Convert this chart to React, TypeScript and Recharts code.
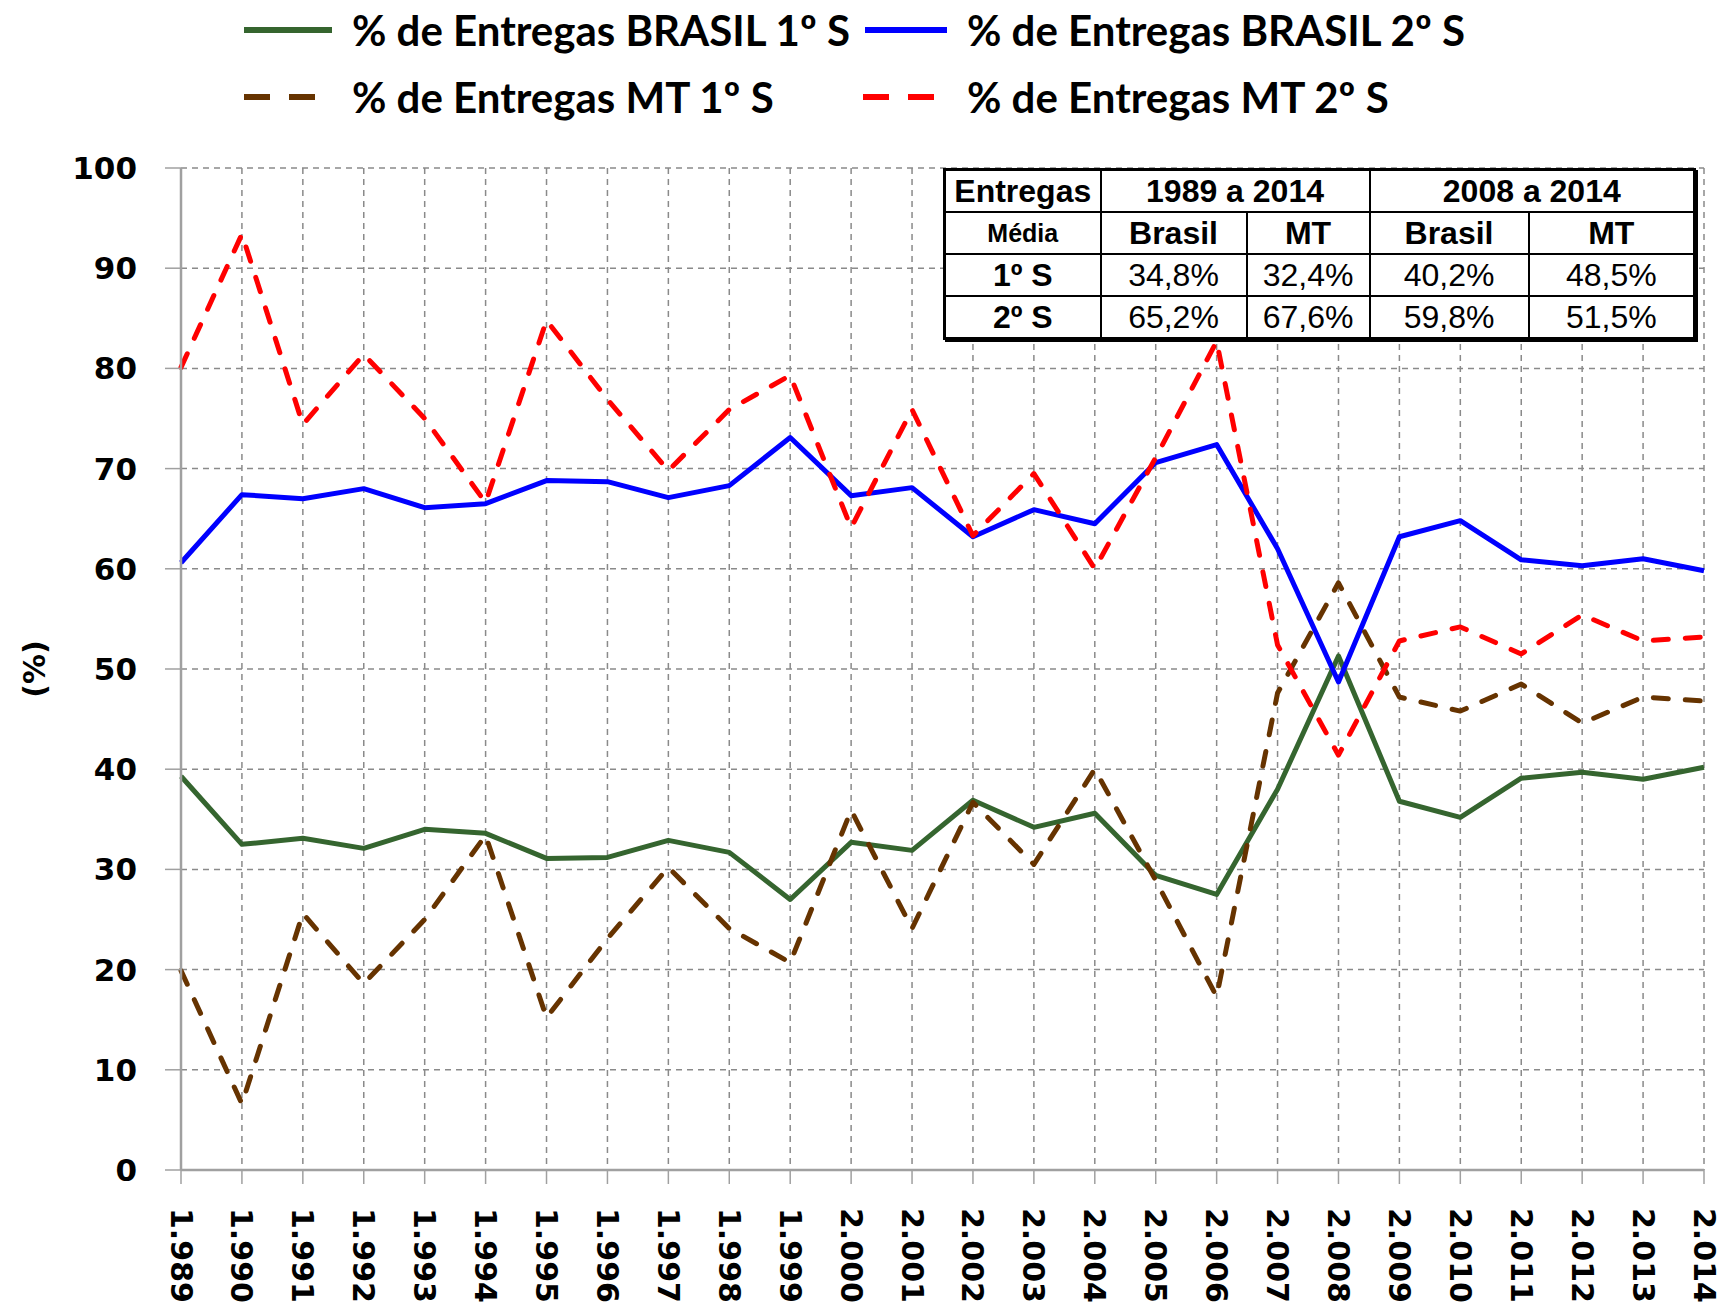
import React from 'react'
import { LineChart, Line, XAxis, YAxis, CartesianGrid } from 'recharts'

const years = [
  '1.989', '1.990', '1.991', '1.992', '1.993', '1.994', '1.995', '1.996', '1.997',
  '1.998', '1.999', '2.000', '2.001', '2.002', '2.003', '2.004', '2.005', '2.006',
  '2.007', '2.008', '2.009', '2.010', '2.011', '2.012', '2.013', '2.014',
]

// % de Entregas BRASIL 1º S
const brasil1S = [
  39.3, 32.5, 33.1, 32.1, 34.0, 33.6, 31.1, 31.2, 32.9, 31.7, 27.0, 32.7, 31.9,
  36.9, 34.2, 35.6, 29.4, 27.5, 38.0, 51.3, 36.8, 35.2, 39.1, 39.7, 39.0, 40.2,
]
// % de Entregas BRASIL 2º S
const brasil2S = [
  60.6, 67.4, 67.0, 68.0, 66.1, 66.5, 68.8, 68.7, 67.1, 68.3, 73.1, 67.3, 68.1,
  63.2, 65.9, 64.5, 70.6, 72.4, 62.0, 48.7, 63.2, 64.8, 60.9, 60.3, 61.0, 59.8,
]
// % de Entregas MT 1º S
const mt1S = [
  19.9, 6.6, 25.6, 18.6, 25.0, 33.4, 15.2, 23.1, 30.2, 24.1, 20.7, 35.9, 24.1,
  36.7, 30.5, 40.0, 28.9, 17.3, 47.6, 58.6, 47.2, 45.8, 48.5, 44.6, 47.2, 46.8,
]
// % de Entregas MT 2º S
const mt2S = [
  80.1, 93.4, 74.4, 81.4, 75.0, 66.6, 84.8, 76.9, 69.8, 75.9, 79.3, 64.1, 75.9,
  63.3, 69.5, 60.0, 71.1, 82.7, 52.4, 41.4, 52.8, 54.2, 51.5, 55.4, 52.8, 53.2,
]

const yTicks = [0, 10, 20, 30, 40, 50, 60, 70, 80, 90, 100]

// summary table
const periodHeaders = ['1989 a 2014', '2008 a 2014']
const regionHeaders = ['Brasil', 'MT', 'Brasil', 'MT']
const rowLabels = ['1º S', '2º S']
const firstSemester = ['34,8%', '32,4%', '40,2%', '48,5%']
const secondSemester = ['65,2%', '67,6%', '59,8%', '51,5%']

const series = [
  { key: 'br1', name: '% de Entregas BRASIL 1º S', color: '#35652f', dash: undefined },
  { key: 'br2', name: '% de Entregas BRASIL 2º S', color: '#0000ff', dash: undefined },
  { key: 'mt1', name: '% de Entregas MT 1º S', color: '#663300', dash: '15 17' },
  { key: 'mt2', name: '% de Entregas MT 2º S', color: '#ff0000', dash: '15 17' },
]

const data = years.map((year, i) => ({
  year,
  br1: brasil1S[i],
  br2: brasil2S[i],
  mt1: mt1S[i],
  mt2: mt2S[i],
}))

const axisFont = 'DejaVu Sans, Verdana, sans-serif'
const gridGrey = '#8a8a8a'

function YearTick({ x, y, payload }: any) {
  return (
    <text
      x={x}
      y={y}
      transform={`rotate(90, ${x}, ${y})`}
      textAnchor="start"
      dominantBaseline="central"
      fill="#000"
      fontSize={30}
      fontWeight="bold"
      fontFamily={axisFont}
    >
      {payload.value}
    </text>
  )
}

// legend slots: [line start, line end, text x, row center y]
const legendSlots = [
  [244, 332, 352, 30],
  [865, 947, 967, 30],
  [244, 315, 352, 97],
  [863, 934, 967, 97],
]

function ChartLegend() {
  return (
    <>
      <svg width={1723} height={130} style={{ position: 'absolute', left: 0, top: 0 }}>
        {series.map((s, i) => {
          const [x1, x2, , cy] = legendSlots[i]
          return (
            <line
              key={s.key}
              x1={x1}
              x2={x2}
              y1={cy}
              y2={cy}
              stroke={s.color}
              strokeWidth={6}
              strokeDasharray={s.dash ? '26 19' : undefined}
            />
          )
        })}
      </svg>
      {series.map((s, i) => {
        const [, , tx, cy] = legendSlots[i]
        return (
          <div
            key={s.key}
            style={{
              position: 'absolute',
              left: tx,
              top: cy - 26,
              height: 52,
              lineHeight: '52px',
              fontFamily: 'Lato, sans-serif',
              fontWeight: 'bold',
              fontSize: 42,
              color: '#000',
              whiteSpace: 'nowrap',
            }}
          >
            {s.name}
          </div>
        )
      })}
    </>
  )
}

const cell: React.CSSProperties = {
  border: '2.5px solid #000',
  height: 40,
  padding: 0,
  textAlign: 'center',
  verticalAlign: 'middle',
  fontSize: 32,
  lineHeight: '38px',
}

function SummaryTable() {
  return (
    <table
      style={{
        position: 'absolute',
        left: 943,
        top: 168,
        width: 750,
        borderCollapse: 'collapse',
        tableLayout: 'fixed',
        background: '#fff',
        fontFamily: 'Liberation Sans, Arial, sans-serif',
        color: '#000',
        border: '3px solid #000',
        boxShadow: '2px 2px 0 #000',
      }}
    >
      <colgroup>
        <col style={{ width: 156 }} />
        <col style={{ width: 146 }} />
        <col style={{ width: 123 }} />
        <col style={{ width: 159 }} />
        <col style={{ width: 166 }} />
      </colgroup>
      <tbody>
        <tr>
          <td style={{ ...cell, fontWeight: 'bold' }}>Entregas</td>
          {periodHeaders.map((p) => (
            <td key={p} colSpan={2} style={{ ...cell, fontWeight: 'bold' }}>
              {p}
            </td>
          ))}
        </tr>
        <tr>
          <td style={{ ...cell, fontWeight: 'bold', fontSize: 25 }}>Média</td>
          {regionHeaders.map((r, i) => (
            <td key={i} style={{ ...cell, fontWeight: 'bold' }}>
              {r}
            </td>
          ))}
        </tr>
        {[firstSemester, secondSemester].map((vals, r) => (
          <tr key={r}>
            <td style={{ ...cell, fontWeight: 'bold' }}>{rowLabels[r]}</td>
            {vals.map((v, i) => (
              <td key={i} style={cell}>
                {v}
              </td>
            ))}
          </tr>
        ))}
      </tbody>
    </table>
  )
}

export default function App() {
  return (
    <div style={{ position: 'relative', width: 1723, height: 1306, background: '#fff' }}>
      <style>{'body{margin:0}'}</style>
      <LineChart
        width={1723}
        height={1306}
        data={data}
        margin={{ top: 168, right: 19, left: 81, bottom: 0 }}
      >
        <CartesianGrid stroke={gridGrey} strokeDasharray="6 5" strokeWidth={1.5} />
        <XAxis
          dataKey="year"
          interval={0}
          height={136}
          tickSize={14}
          tickMargin={24}
          tick={<YearTick />}
          axisLine={{ stroke: '#a0a0a0', strokeWidth: 2.5 }}
          tickLine={{ stroke: '#a0a0a0', strokeWidth: 1.5 }}
        />
        <YAxis
          type="number"
          domain={[0, 100]}
          ticks={yTicks}
          width={100}
          tickSize={16}
          tickMargin={28}
          axisLine={{ stroke: '#a0a0a0', strokeWidth: 2.5 }}
          tickLine={{ stroke: '#a0a0a0', strokeWidth: 1.5 }}
          tick={{ fill: '#000', fontSize: 31, fontWeight: 'bold', fontFamily: axisFont }}
          label={{
            value: '(%)',
            angle: -90,
            position: 'insideLeft',
            offset: -47,
            style: {
              textAnchor: 'middle',
              fill: '#000',
              fontSize: 30,
              fontWeight: 'bold',
              fontFamily: axisFont,
            },
          }}
        />
        {series.map((s) => (
          <Line
            key={s.key}
            type="linear"
            dataKey={s.key}
            name={s.name}
            stroke={s.color}
            strokeWidth={5}
            strokeDasharray={s.dash}
            strokeLinecap={s.dash ? 'round' : 'butt'}
            strokeLinejoin="round"
            dot={false}
            activeDot={false}
            isAnimationActive={false}
          />
        ))}
      </LineChart>
      <ChartLegend />
      <SummaryTable />
    </div>
  )
}
